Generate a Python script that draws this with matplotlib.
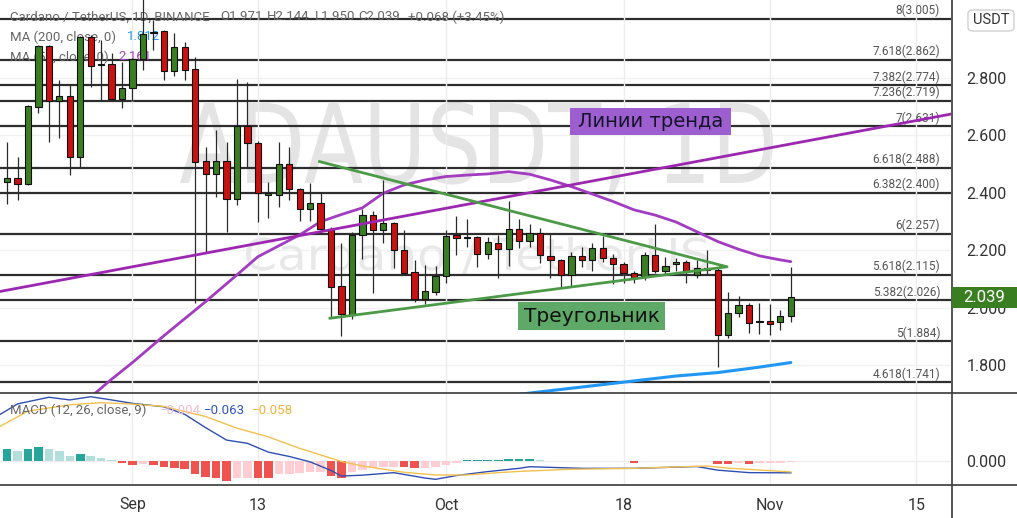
import matplotlib
matplotlib.use('Agg')
import matplotlib.pyplot as plt
import numpy as np
import pandas as pd
from matplotlib.patches import Rectangle, FancyBboxPatch, PathPatch
from matplotlib.textpath import TextPath
from matplotlib.font_manager import FontProperties
from matplotlib.transforms import Affine2D, blended_transform_factory
from matplotlib.lines import Line2D

# daily candles, ADA/USDT, Aug 20 - Nov 3 2021
dates = pd.date_range('2021-08-20', '2021-11-03', freq='D')
opens = [2.437, 2.451, 2.430, 2.700, 2.911, 2.718, 2.736, 2.524, 2.944, 2.850, 2.849, 2.727,
         2.764, 2.865, 2.955, 2.963, 2.825, 2.907, 2.830, 2.510, 2.466, 2.512, 2.378, 2.631,
         2.575, 2.394, 2.393, 2.500, 2.413, 2.343, 2.364, 2.275, 2.077, 1.976, 2.254, 2.323,
         2.271, 2.294, 2.202, 2.124, 2.030, 2.057, 2.111, 2.253, 2.245, 2.246, 2.187, 2.225,
         2.205, 2.273, 2.233, 2.262, 2.182, 2.167, 2.115, 2.182, 2.167, 2.210, 2.173, 2.152,
         2.120, 2.111, 2.183, 2.130, 2.152, 2.161, 2.115, 2.132, 2.132, 1.906, 1.982, 2.011,
         1.950, 1.956, 1.950, 1.971]
highs = [2.578, 2.526, 2.705, 2.915, 2.915, 2.793, 2.779, 2.945, 2.950, 2.932, 2.886, 2.857,
         2.868, 3.100, 3.000, 2.966, 2.955, 2.926, 2.874, 2.561, 2.619, 2.578, 2.797, 2.787,
         2.580, 2.439, 2.578, 2.561, 2.416, 2.434, 2.399, 2.280, 2.225, 2.265, 2.343, 2.338,
         2.445, 2.300, 2.271, 2.167, 2.150, 2.147, 2.271, 2.318, 2.309, 2.250, 2.246, 2.254,
         2.373, 2.309, 2.292, 2.277, 2.258, 2.170, 2.196, 2.213, 2.225, 2.250, 2.188, 2.161,
         2.130, 2.196, 2.292, 2.178, 2.173, 2.165, 2.167, 2.202, 2.138, 2.057, 2.042, 2.018,
         2.018, 2.014, 1.991, 2.144]
lows = [2.362, 2.375, 2.428, 2.677, 2.578, 2.590, 2.462, 2.486, 2.768, 2.718, 2.720, 2.695,
        2.718, 2.828, 2.897, 2.793, 2.807, 2.793, 2.016, 2.190, 2.387, 2.265, 2.358, 2.491,
        2.300, 2.312, 2.350, 2.376, 2.303, 2.303, 2.260, 1.970, 1.904, 1.960, 2.170, 2.053,
        2.225, 2.138, 2.118, 2.022, 2.014, 2.045, 2.086, 2.184, 2.213, 2.144, 2.169, 2.103,
        2.146, 2.208, 2.213, 2.155, 2.103, 2.074, 2.074, 2.144, 2.130, 2.161, 2.083, 2.086,
        2.086, 2.097, 2.120, 2.118, 2.127, 2.086, 2.105, 2.115, 1.796, 1.895, 1.970, 1.914,
        1.909, 1.906, 1.924, 1.950]
closes = [2.451, 2.430, 2.703, 2.911, 2.718, 2.736, 2.524, 2.942, 2.843, 2.846, 2.727, 2.764,
          2.865, 2.952, 2.961, 2.825, 2.907, 2.828, 2.509, 2.466, 2.512, 2.378, 2.631, 2.575,
          2.399, 2.398, 2.500, 2.413, 2.343, 2.364, 2.274, 2.072, 1.978, 2.254, 2.323, 2.271,
          2.294, 2.202, 2.123, 2.030, 2.059, 2.111, 2.250, 2.242, 2.243, 2.187, 2.229, 2.205,
          2.273, 2.233, 2.262, 2.184, 2.167, 2.115, 2.181, 2.167, 2.210, 2.173, 2.153, 2.123,
          2.105, 2.183, 2.130, 2.147, 2.158, 2.127, 2.138, 2.140, 1.906, 1.982, 2.011, 1.947,
          1.955, 1.943, 1.971, 2.039]

# moving averages (day offset from Sep 1, value)
ma50_day = [-4, -2, 0, 3, 7, 10, 12, 16, 18, 20, 22, 24, 26, 28, 30, 32, 34, 36, 38, 40,
            42, 44, 46, 48, 50, 52, 54, 56, 58, 60, 62, 63]
ma50_val = [1.690, 1.752, 1.810, 1.903, 2.022, 2.115, 2.178, 2.254, 2.300, 2.325, 2.348,
            2.399, 2.428, 2.445, 2.457, 2.462, 2.466, 2.474, 2.465, 2.445, 2.422, 2.396,
            2.370, 2.341, 2.323, 2.299, 2.265, 2.231, 2.204, 2.181, 2.167, 2.161]
ma200_day = [36, 39, 44, 48, 52, 56, 60, 63]
ma200_val = [1.695, 1.708, 1.729, 1.746, 1.763, 1.775, 1.794, 1.810]

# MACD (12, 26, 9)
macd_day = [-13, -11, -8, -6, -4, -2, 0, 3, 5, 7, 9, 11, 13, 15, 17, 19, 20, 22, 25, 28,
            29, 31, 34, 37, 38, 43, 48, 54, 56, 59, 63]
macd_val = [0.250, 0.320, 0.357, 0.342, 0.360, 0.342, 0.323, 0.304, 0.262, 0.188, 0.119,
            0.101, 0.052, 0.028, -0.002, -0.050, -0.081, -0.076, -0.062, -0.092, -0.099,
            -0.078, -0.056, -0.038, -0.029, -0.038, -0.038, -0.028, -0.048, -0.062, -0.063]
signal_day = [-13, -10, -6, -3, 0, 3, 7, 10, 13, 16, 20, 22, 26, 29, 32, 35, 37, 42, 48,
              55, 57, 63]
signal_val = [0.185, 0.280, 0.315, 0.327, 0.319, 0.306, 0.250, 0.185, 0.137, 0.073, 0.000,
              -0.025, -0.060, -0.075, -0.075, -0.062, -0.055, -0.043, -0.038, -0.025,
              -0.037, -0.058]
hist = [0.067, 0.061, 0.070, 0.083, 0.070, 0.061, 0.033, 0.039, 0.033, 0.019, 0.006,
        -0.009, -0.017, -0.013, -0.017, -0.028, -0.035, -0.044, -0.072, -0.087, -0.091, -0.106,
        -0.091, -0.090, -0.092, -0.093, -0.072, -0.069, -0.065, -0.059, -0.057, -0.083, -0.091,
        -0.059, -0.050, -0.035, -0.031, -0.028, -0.030, -0.035, -0.034, -0.028, -0.017, -0.006,
        0.006, 0.008, 0.009, 0.011, 0.012, 0.013, 0.014, 0.006, 0.004, 0.002, 0.003, 0.002,
        0.005, 0.003, 0.001, 0.000, -0.006, 0.002, 0.002, 0.002, 0.002, 0.001, 0.000, 0.001,
        -0.012, -0.015, -0.010, -0.014, -0.010, -0.008, -0.006, -0.005]

# fibonacci levels
fib_ratio = ['8', '7.618', '7.382', '7.236', '7', '6.618', '6.382', '6', '5.618', '5.382',
             '5', '4.618']
fib_price = [3.005, 2.862, 2.774, 2.719, 2.631, 2.488, 2.400, 2.257, 2.115, 2.026, 1.884, 1.741]

# hand-drawn lines
trend_day = [-12.7, 78.3]
trend_price = [2.057, 2.674]
tri_day = [17.9, 56.9, 18.9]
tri_price = [2.509, 2.143, 1.964]

date_ticks = [0, 12, 30, 47, 61, 75]
date_labels = ['Sep', '13', 'Oct', '18', 'Nov', '15']
price_ticks = [1.8, 2.0, 2.2, 2.4, 2.6, 2.8]

W, H = 1017, 518


def fx(x):
    return x / W


def fy(y):
    return 1 - y / H


base = pd.Timestamp('2021-09-01')
x = np.array((dates - base).days)
o, hi, lo, c = map(np.array, (opens, highs, lows, closes))

plt.rcParams['font.family'] = ['Roboto', 'DejaVu Sans']
fig = plt.figure(figsize=(W / 100, H / 100), dpi=100)
ax = fig.add_axes([0, fy(393), fx(951), 393 / H])
ax2 = fig.add_axes([0, fy(485), fx(951), 92 / H])
for a in (ax, ax2):
    a.set_facecolor('none')
    for s in a.spines.values():
        s.set_visible(False)
    a.set_xlim(-12.68, 78.33)
    a.set_xticks(date_ticks)
    a.grid(axis='x', color='#ececec', lw=1, zorder=0)
    a.tick_params(length=0)
    a.yaxis.tick_right()

# main panel
ax.set_ylim(1.704, 3.071)
ax.set_yticks(price_ticks)
ax.set_yticklabels(['%.3f' % p for p in price_ticks], fontsize=11.5, color='#333')
ax.tick_params(axis='y', pad=11)
ax.set_xticklabels([])
for p in price_ticks:
    ax.axhline(p, color='#f1f1f1', lw=1, zorder=0)


def watermark(s, x0, x1, ytop, ybase, color):
    fp = FontProperties(family='DejaVu Sans')
    tp = TextPath((0, 0), s, size=1, prop=fp)
    bb = tp.get_extents()
    cap = TextPath((0, 0), 'H', size=1, prop=fp).get_extents().height
    sx = (x1 - x0) / bb.width / W
    sy = (ybase - ytop) / cap / H
    tr = Affine2D().translate(-bb.x0, 0).scale(sx, sy).translate(fx(x0), fy(ybase))
    ax.add_patch(PathPatch(tp, facecolor=color, edgecolor='none', lw=0,
                           transform=tr + fig.transFigure, zorder=0.5, clip_on=False))


watermark('ADAUSDT, 1D', 180, 773, 103, 183, '#e4e4e4')
watermark('Cardano / TetherUS', 246, 708, 238, 270, '#e8e8e8')

blend = blended_transform_factory(ax.transAxes, ax.transData)
for r, p in zip(fib_ratio, fib_price):
    ax.axhline(p, color='#2e2e2e', lw=1.6, zorder=1.5)
    ax.text(0.9885, p + 0.006, '%s(%.3f)' % (r, p), transform=blend, ha='right', va='bottom',
            fontsize=8.5, color='#555', zorder=1.6)

# legend texts (under candles)
def ftxt(xp, yp, s, color='#666', size=9.5, z=2):
    ax.text(fx(xp), fy(yp), s, transform=fig.transFigure, ha='left', va='center',
            fontsize=size, color=color, zorder=z)


ftxt(10, 17, 'Cardano / TetherUS, 1D, BINANCE')
ftxt(220, 17, 'O1.971')
ftxt(267, 17, 'H2.144')
ftxt(315, 17, 'L1.950')
ftxt(358, 17, 'C2.039')
ftxt(408, 17, '+0.068 (+3.45%)')
ftxt(10, 37, 'MA (200, close, 0)')
ftxt(127, 37, '1.812', color='#2196f3')
ftxt(10, 57, 'MA (50, close, 0)')
ftxt(118, 57, '2.161', color='#a542c0')

ax.plot(ma200_day, ma200_val, color='#2196f3', lw=2.2, zorder=3, solid_capstyle='round')
ax.plot(ma50_day, ma50_val, color='#a23cc0', lw=2.0, zorder=3, solid_capstyle='round')

# candles
up = c >= o
body_lo = np.minimum(o, c)
body_h = np.maximum(np.abs(c - o), 0.004)
ax.vlines(x, lo, hi, color='#2a2a2a', lw=0.9, zorder=3.5)
ax.bar(x, body_h, bottom=body_lo, width=0.6, color=np.where(up, '#3b7d23', '#c81212'),
       edgecolor='#111', linewidth=0.8, zorder=4)

# drawings
ax.plot(trend_day, trend_price, color='#9c27b0', lw=2.0, zorder=5)
ax.plot(tri_day, tri_price, color='#4c9a48', lw=2.0, zorder=5)

ax.add_patch(Rectangle((fx(570), fy(135)), 161 / W, 27 / H, transform=fig.transFigure,
                       facecolor='#9d5fcf', edgecolor='none', zorder=6, clip_on=False))
ax.text(fx(650.5), fy(121.5), 'Линии тренда', transform=fig.transFigure, ha='center',
        va='center', fontsize=14, color='#15152a', family='DejaVu Sans', zorder=7)
ax.add_patch(Rectangle((fx(518), fy(330)), 147 / W, 28 / H, transform=fig.transFigure,
                       facecolor='#5fa968', edgecolor='none', zorder=6, clip_on=False))
ax.text(fx(591.5), fy(316), 'Треугольник', transform=fig.transFigure, ha='center',
        va='center', fontsize=14.5, color='#111', family='DejaVu Sans', zorder=7)

# MACD panel
ax2.set_ylim(-0.1306, 0.3806)
ax2.set_yticks([0])
ax2.set_yticklabels(['0.000'], fontsize=11.5, color='#333')
ax2.tick_params(axis='y', pad=11)
ax2.set_xticklabels(date_labels, fontsize=11.5, color='#333')
ax2.tick_params(axis='x', pad=9)
ax2.axhline(0, color='#eeeeee', lw=1, zorder=0.5)

prev = np.concatenate([[hist[0] - 1], hist[:-1]])
hv = np.array(hist)
bar_col = np.where(hv >= 0, np.where(hv > prev, '#26a69a', '#b2dfdb'),
                   np.where(hv < prev, '#ef5350', '#ffcdd2'))
ax2.bar(x, hv, width=0.82, color=bar_col, zorder=2)
ax2.plot(macd_day, macd_val, color='#2f4fb0', lw=1.0, zorder=3)
ax2.plot(signal_day, signal_val, color='#f2c14e', lw=1.0, zorder=3)

for xp, s, col in [(10, 'MACD (12, 26, close, 9)', '#666'), (160, '−0.004', '#f5bcd0'),
                   (204, '−0.063', '#2f55c0'), (252, '−0.058', '#f2b33d')]:
    ax2.text(fx(xp), fy(410), s, transform=fig.transFigure, ha='left', va='center',
             fontsize=9.5, color=col, zorder=4)

# frame lines
for yy in (393, 485):
    fig.add_artist(Line2D([0, 1], [fy(yy), fy(yy)], color='#3a3a3a', lw=1.2))
fig.add_artist(Line2D([fx(951.5), fx(951.5)], [0, 1], color='#3a3a3a', lw=1.2))

# price tag and currency box
fig.add_artist(Rectangle((fx(952), fy(308)), 65 / W, 21 / H, transform=fig.transFigure,
                         facecolor='#3a7e22', edgecolor='none', zorder=5))
fig.text(fx(984.5), fy(297.5), '2.039', ha='center', va='center', fontsize=12,
         color='white', zorder=6)
fig.add_artist(FancyBboxPatch((fx(968), fy(31)), 46 / W, 21 / H, transform=fig.transFigure,
                              boxstyle='round,pad=0,rounding_size=0.006', facecolor='white',
                              edgecolor='#d0d0d0', lw=1, zorder=5))
fig.text(fx(991), fy(20.5), 'USDT', ha='center', va='center', fontsize=10.5, color='#333',
         zorder=6)

fig.savefig('out.png', dpi=100, facecolor='white')
